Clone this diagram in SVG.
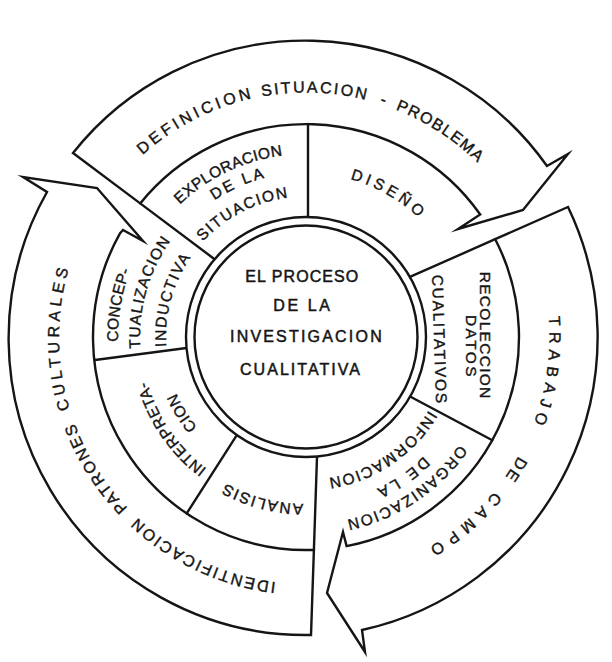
<svg xmlns="http://www.w3.org/2000/svg" xmlns:xlink="http://www.w3.org/1999/xlink" width="612" height="662" viewBox="0 0 612 662">
<style>
.sh{fill:#fff;stroke:#151515;stroke-width:2.4;stroke-linejoin:miter;stroke-miterlimit:10}
.ln{fill:none;stroke:#151515;stroke-width:2.4;stroke-linecap:round}
text{font-family:"Liberation Sans",Arial,sans-serif;fill:#151515;stroke:#151515;stroke-width:0.4}
.o{font-size:16px}
.s{font-size:15.5px}
.c{font-size:16px;stroke-width:0.5}
</style>
<defs>
<path id="p1" d="M142.6,155.1 A244.5,244.5 0 0 1 251.5,98.6"/>
<path id="p2" d="M262.0,96.5 A244.5,244.5 0 0 1 368.6,100.6"/>
<path id="p3" d="M379.6,103.8 A244.5,244.5 0 0 1 389.6,107.2"/>
<path id="p4" d="M395.5,109.5 A244.5,244.5 0 0 1 477.5,162.7"/>
<path id="p5" d="M548.6,316.5 A243.5,243.5 0 0 1 533.9,422.8"/>
<path id="p6" d="M518.4,456.1 A243.5,243.5 0 0 1 505.4,476.8"/>
<path id="p7" d="M494.2,491.5 A243.5,243.5 0 0 1 429.5,546.9"/>
<path id="p8" d="M275.9,582.2 A247,247 0 0 1 137.6,517.7"/>
<path id="p9" d="M127.7,508.0 A247,247 0 0 1 74.6,423.4"/>
<path id="p10" d="M69.8,409.3 A247,247 0 0 1 68.5,269.3"/>
<path id="p11" d="M179.8,204.5 A183,183 0 0 1 282.6,155.5"/>
<path id="p12" d="M214.4,200.4 A164.5,164.5 0 0 1 264.4,177.8"/>
<path id="p13" d="M202.9,241.6 A140.5,140.5 0 0 1 287.7,197.7"/>
<path id="p14" d="M350.2,179.1 A164,164 0 0 1 418.3,217.5"/>
<path id="p18" d="M459.5,444.8 A187.5,187.5 0 0 1 346.8,520.0"/>
<path id="p19" d="M423.7,456.2 A167.5,167.5 0 0 1 376.7,488.8"/>
<path id="p20" d="M428.8,410.2 A143,143 0 0 1 328.9,478.2"/>
<path id="p21" d="M303.1,504.0 A167,167 0 0 1 225.8,483.5"/>
<path id="p22" d="M206.8,468.8 A165,165 0 0 1 147.2,381.8"/>
<path id="p23" d="M197.3,427.3 A141.3,141.3 0 0 1 176.3,393.1"/>
<path id="p24" d="M118.1,341.7 A188,188 0 0 1 130.2,270.5"/>
<path id="p25" d="M140.4,348.4 A166,166 0 0 1 170.6,241.0"/>
<path id="p26" d="M166.3,346.8 A140,140 0 0 1 190.6,257.7"/>
</defs>
<rect width="612" height="662" fill="#fff"/>

<g id="arrow-definicion">
<path class="sh" d="M140.2,203.4 L73,153 A296,296 0 0 1 547,166 L568,154 L523,210 L458,229 L480.2,214.5 A213,213 0 0 0 140.2,203.4 Z"/>
<text class="o"><textPath href="#p1" xlink:href="#p1" textLength="124" lengthAdjust="spacing">DEFINICION</textPath></text>
<text class="o"><textPath href="#p2" xlink:href="#p2" textLength="104.4" lengthAdjust="spacing">SITUACION</textPath></text>
<text class="o"><textPath href="#p3" xlink:href="#p3">-</textPath></text>
<text class="o"><textPath href="#p4" xlink:href="#p4" textLength="98.4" lengthAdjust="spacing">PROBLEMA</textPath></text>
</g>

<g id="arrow-trabajo">
<path class="sh" d="M495.2,239.2 L568,207 A300,300 0 0 1 362,630 L365,652 L327,593 L343,532 L346.6,546.1 A213,213 0 0 0 495.2,239.2 Z"/>
<text class="o"><textPath href="#p5" xlink:href="#p5" textLength="108.2" lengthAdjust="spacing">TRABAJO</textPath></text>
<text class="o"><textPath href="#p6" xlink:href="#p6" textLength="24.5" lengthAdjust="spacing">DE</textPath></text>
<text class="o"><textPath href="#p7" xlink:href="#p7" textLength="85.7" lengthAdjust="spacing">CAMPO</textPath></text>
</g>

<g id="arrow-identificacion">
<path class="sh" d="M313.9,549.9 L311,635 A297,297 0 0 1 47,192 L23,177 L97,188 L143,241 L123,230 L120.1,233.1 A213,213 0 0 0 313.9,549.9 Z"/>
<text class="o"><textPath href="#p8" xlink:href="#p8" textLength="155.3" lengthAdjust="spacing">IDENTIFICACION</textPath></text>
<text class="o"><textPath href="#p9" xlink:href="#p9" textLength="100.6" lengthAdjust="spacing">PATRONES</textPath></text>
<text class="o"><textPath href="#p10" xlink:href="#p10" textLength="142" lengthAdjust="spacing">CULTURALES</textPath></text>
</g>

<g id="connectors">
<line class="ln" x1="214.6" y1="259.2" x2="140.2" y2="203.4"/>
<line class="ln" x1="308" y1="217" x2="308" y2="124"/>
<line class="ln" x1="409.9" y1="276.9" x2="495.2" y2="239.2"/>
<line class="ln" x1="411" y1="397" x2="492.3" y2="440.2"/>
<line class="ln" x1="317" y1="457" x2="313.9" y2="549.9"/>
<line class="ln" x1="236.8" y1="435.1" x2="186.7" y2="513.4"/>
<line class="ln" x1="186.5" y1="348" x2="95" y2="360"/>
</g>

<g id="seg-exploracion">
<text class="s"><textPath href="#p11" xlink:href="#p11" textLength="115.6" lengthAdjust="spacing">EXPLORACION</textPath></text>
<text class="s"><textPath href="#p12" xlink:href="#p12" textLength="55.1" lengthAdjust="spacing">DE LA</textPath></text>
<text class="s"><textPath href="#p13" xlink:href="#p13" textLength="97.5" lengthAdjust="spacing">SITUACION</textPath></text>
</g>
<g id="seg-diseno">
<text class="s"><textPath href="#p14" xlink:href="#p14" textLength="79" lengthAdjust="spacing">DISEÑO</textPath></text>
</g>
<g id="seg-recoleccion">
<text class="s" transform="translate(479.5,271.7) rotate(90)" textLength="126.6" lengthAdjust="spacing">RECOLECCION</text>
<text class="s" transform="translate(466,315) rotate(90)" textLength="61.7" lengthAdjust="spacing">DATOS</text>
<text class="s" transform="translate(432,275) rotate(88.2)" textLength="128.3" lengthAdjust="spacing">CUALITATIVOS</text>
</g>
<g id="seg-organizacion">
<text class="s"><textPath href="#p18" xlink:href="#p18" textLength="138.6" lengthAdjust="spacing">ORGANIZACION</textPath></text>
<text class="s"><textPath href="#p19" xlink:href="#p19" textLength="57.4" lengthAdjust="spacing">DE LA</textPath></text>
<text class="s"><textPath href="#p20" xlink:href="#p20" textLength="124.8" lengthAdjust="spacing">INFORMACION</textPath></text>
</g>
<g id="seg-analisis">
<text class="s"><textPath href="#p21" xlink:href="#p21" textLength="80.8" lengthAdjust="spacing">ANALISIS</textPath></text>
</g>
<g id="seg-interpretacion">
<text class="s"><textPath href="#p22" xlink:href="#p22" textLength="107.3" lengthAdjust="spacing">INTERPRETA-</textPath></text>
<text class="s"><textPath href="#p23" xlink:href="#p23" textLength="40.3" lengthAdjust="spacing">CION</textPath></text>
</g>
<g id="seg-conceptualizacion">
<text class="s"><textPath href="#p24" xlink:href="#p24" textLength="72.7" lengthAdjust="spacing">CONCEP-</textPath></text>
<text class="s"><textPath href="#p25" xlink:href="#p25" textLength="113.7" lengthAdjust="spacing">TUALIZACION</textPath></text>
<text class="s"><textPath href="#p26" xlink:href="#p26" textLength="94.1" lengthAdjust="spacing">INDUCTIVA</textPath></text>
</g>

<g id="center">
<circle class="sh" cx="306" cy="337" r="120"/>
<circle class="ln" cx="306" cy="337" r="111.5"/>
<text class="c" x="245.2" y="281.7" textLength="113" lengthAdjust="spacing">EL PROCESO</text>
<text class="c" x="273.3" y="310.7" textLength="56.7" lengthAdjust="spacing">DE LA</text>
<text class="c" x="230" y="341.7" textLength="151.7" lengthAdjust="spacing">INVESTIGACION</text>
<text class="c" x="240" y="375" textLength="120" lengthAdjust="spacing">CUALITATIVA</text>
</g>
</svg>
